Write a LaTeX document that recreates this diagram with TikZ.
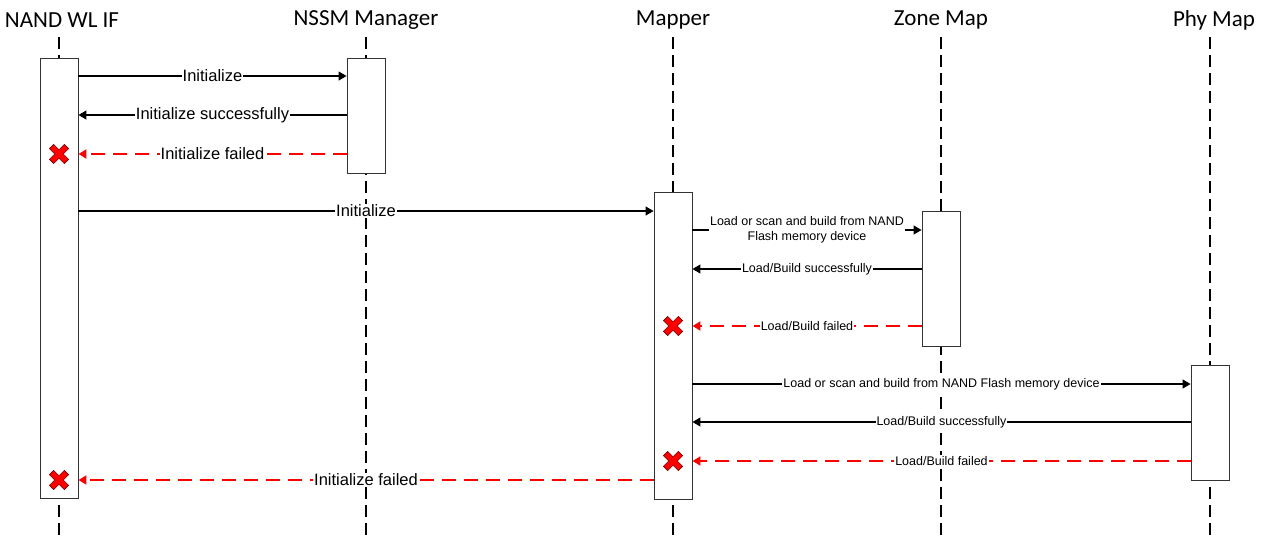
\documentclass[tikz,border=0pt]{standalone}
\usepackage{fontspec}
\setmainfont{Liberation Sans}
\newfontfamily\titlefont{Carlito}
\usetikzlibrary{arrows.meta}
\tikzset{
  lifeline/.style={line width=2.4pt, dash pattern=on 12pt off 6pt},
  actbox/.style={draw=black!80, fill=white, line width=0.9pt, inner sep=0pt, minimum width=38pt, anchor=north},
  msg/.style={line width=1.2pt, -{Triangle[length=8pt,width=9pt]}},
  fail/.style={msg, draw=red, color=red, line width=2pt, dash pattern=on 14pt off 8pt},
  lbl/.style={fill=white, inner sep=1pt, text=black, font=\fontsize{16.5}{18}\selectfont},
  slbl/.style={fill=white, inner sep=1pt, text=black, align=center, font=\fontsize{12.5}{15}\selectfont},
  ttl/.style={font=\titlefont\fontsize{23}{26}\selectfont, inner sep=2pt},
  xmark/.pic={\filldraw[fill=red, draw=red!45!black, line width=0.6pt, rotate=45]
     (3,10.5)--(3,3)--(10.5,3)--(10.5,-3)--(3,-3)--(3,-10.5)--(-3,-10.5)--(-3,-3)--(-10.5,-3)--(-10.5,3)--(-3,3)--(-3,10.5)--cycle;}
}
\begin{document}
\begin{tikzpicture}[x=1pt,y=-1pt]
\useasboundingbox (0,0) rectangle (1263,539);
% titles
\node[ttl] (tNand) at (62,20) {NAND WL IF};
\node[ttl] (tNssm) at (366,20) {NSSM Manager};
\node[ttl] (tMap) at (673,20) {Mapper};
\node[ttl] (tZone) at (941,20) {Zone Map};
\node[ttl] (tPhy) at (1214,20) {Phy Map};
% lifeline ends
\coordinate (bNand) at (59,539);
\coordinate (bNssm) at (366,539);
\coordinate (bMap) at (673,539);
\coordinate (bZone) at (941,539);
\coordinate (bPhy) at (1210,539);
\draw[lifeline] (bNand |- 0,37) -- (bNand);
\draw[lifeline] (bNssm |- 0,37) -- (bNssm);
\draw[lifeline] (bMap |- 0,37) -- (bMap);
\draw[lifeline] (bZone |- 0,37) -- (bZone);
\draw[lifeline] (bPhy |- 0,37) -- (bPhy);
% activation boxes
\node[actbox, minimum height=440pt] (aNand) at (59,58) {};
\node[actbox, minimum height=115pt] (aNssm) at (366,58) {};
\node[actbox, minimum height=307pt] (aMap) at (673,192) {};
\node[actbox, minimum height=135pt] (aZone) at (941,211) {};
\node[actbox, minimum height=115pt] (aPhy) at (1210,365) {};
% messages
\draw[msg] (aNand.east |- 0,76) -- node[lbl]{Initialize} (aNssm.west |- 0,76);
\draw[msg] (aNssm.west |- 0,115) -- node[lbl]{Initialize successfully} (aNand.east |- 0,115);
\draw[fail] (aNssm.west |- 0,154) -- node[lbl]{Initialize failed} (aNand.east |- 0,154);
\pic at (59,154) {xmark};
\draw[msg] (aNand.east |- 0,211) -- node[lbl]{Initialize} (aMap.west |- 0,211);
\draw[msg] (aMap.east |- 0,230) -- node[slbl]{Load or scan and build from NAND\\Flash memory device} (aZone.west |- 0,230);
\draw[msg] (aZone.west |- 0,269) -- node[slbl]{Load/Build successfully} (aMap.east |- 0,269);
\draw[fail] (aZone.west |- 0,326) -- node[slbl]{Load/Build failed} (aMap.east |- 0,326);
\pic at (673,326) {xmark};
\draw[msg] (aMap.east |- 0,384) -- node[slbl]{Load or scan and build from NAND Flash memory device} (aPhy.west |- 0,384);
\draw[msg] (aPhy.west |- 0,422) -- node[slbl]{Load/Build successfully} (aMap.east |- 0,422);
\draw[fail] (aPhy.west |- 0,461) -- node[slbl]{Load/Build failed} (aMap.east |- 0,461);
\pic at (673,461) {xmark};
\draw[fail] (aMap.west |- 0,480) -- node[lbl]{Initialize failed} (aNand.east |- 0,480);
\pic at (59,480) {xmark};
\end{tikzpicture}
\end{document}
